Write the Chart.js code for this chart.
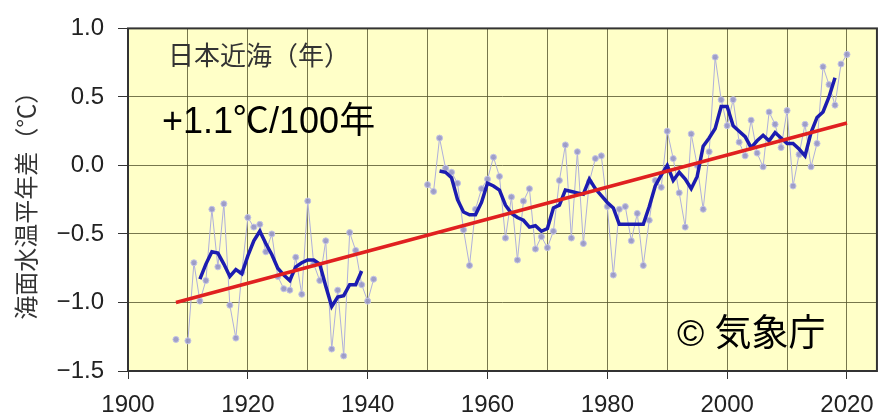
<!DOCTYPE html>
<html>
<head>
<meta charset="utf-8">
<script src="https://cdn.jsdelivr.net/npm/chart.js@4.4.1/dist/chart.umd.min.js"></script>
<style>
  body { margin: 0; background: #fff; }
  #wrap { width: 886px; height: 417px; }
</style>
</head>
<body>
<div id="wrap"><canvas id="sst"></canvas></div>
<script>
// 日本近海の年平均海面水温平年差
const years = [
  1908, 1909, 1910, 1911, 1912, 1913, 1914, 1915, 1916, 1917, 1918, 1919,
  1920, 1921, 1922, 1923, 1924, 1925, 1926, 1927, 1928, 1929,
  1930, 1931, 1932, 1933, 1934, 1935, 1936, 1937, 1938, 1939,
  1940, 1941, 1942, 1943, 1944, 1945, 1946, 1947, 1948, 1949,
  1950, 1951, 1952, 1953, 1954, 1955, 1956, 1957, 1958, 1959,
  1960, 1961, 1962, 1963, 1964, 1965, 1966, 1967, 1968, 1969,
  1970, 1971, 1972, 1973, 1974, 1975, 1976, 1977, 1978, 1979,
  1980, 1981, 1982, 1983, 1984, 1985, 1986, 1987, 1988, 1989,
  1990, 1991, 1992, 1993, 1994, 1995, 1996, 1997, 1998, 1999,
  2000, 2001, 2002, 2003, 2004, 2005, 2006, 2007, 2008, 2009,
  2010, 2011, 2012, 2013, 2014, 2015, 2016, 2017, 2018, 2019, 2020
];

// yearly anomaly
const yearly = [
  -1.27, null, -1.28, -0.71, -0.99, -0.84, -0.32, -0.74, -0.28, -1.02, -1.26, -0.78,
  -0.38, -0.45, -0.43, -0.63, -0.50, -0.81, -0.90, -0.91, -0.67, -0.94,
  -0.26, -0.72, -0.84, -0.55, -1.34, -0.91, -1.39, -0.49, -0.62, -0.87,
  -0.99, -0.83, null, null, null, null, null, null, null, null,
  -0.14, -0.19, 0.20, -0.02, -0.05, -0.13, -0.47, -0.73, -0.32, -0.17,
  -0.10, 0.06, -0.08, -0.53, -0.23, -0.69, -0.26, -0.17, -0.61, -0.52,
  -0.60, -0.48, -0.11, 0.15, -0.53, 0.10, -0.57, -0.12, 0.05, 0.07,
  -0.30, -0.80, -0.32, -0.30, -0.55, -0.35, -0.73, -0.40, -0.11, -0.16,
  0.25, 0.05, -0.20, -0.45, 0.23, 0.00, -0.32, 0.10, 0.79, 0.48,
  0.29, 0.48, 0.17, 0.07, 0.33, 0.09, -0.01, 0.39, 0.30, 0.13,
  0.40, -0.15, 0.08, 0.30, -0.01, 0.16, 0.72, 0.59, 0.44, 0.74, 0.81
];

// 5-year running mean
const runMean = [
  null, null, null, null, -0.83, -0.72, -0.63, -0.64, -0.72, -0.81, -0.76, -0.79,
  -0.66, -0.55, -0.48, -0.57, -0.65, -0.75, -0.80, -0.84, -0.74, -0.71,
  -0.69, -0.69, -0.72, -0.88, -1.03, -0.96, -0.95, -0.87, -0.87, -0.77,
  null, null, null, null, null, null, null, null, null, null,
  null, null, -0.04, -0.05, -0.09, -0.25, -0.34, -0.36, -0.36, -0.27,
  -0.13, -0.15, -0.18, -0.29, -0.35, -0.38, -0.40, -0.45, -0.44, -0.48,
  -0.46, -0.31, -0.29, -0.18, -0.19, -0.20, -0.21, -0.10, -0.17, -0.22,
  -0.27, -0.31, -0.43, -0.43, -0.43, -0.43, -0.43, -0.30, -0.15, -0.07,
  0.00, -0.11, -0.05, -0.10, -0.17, -0.08, 0.14, 0.20, 0.27, 0.43,
  0.43, 0.29, 0.25, 0.21, 0.13, 0.18, 0.22, 0.18, 0.24, 0.20,
  0.16, 0.16, 0.12, 0.07, 0.24, 0.35, 0.39, 0.50, 0.64, null, null
];

// long-term trend (+1.1℃/100年)
const trendYears = [1908, 2020];
const trendValues = [-1.00, 0.31];

const yTicks = [-1.5, -1.0, -0.5, 0.0, 0.5, 1.0];

const latin = '"Liberation Sans", "Noto Sans CJK JP", sans-serif';

function pts(xs, ys) {
  return xs.map((x, i) => ({ x: x, y: ys[i] }));
}

const panel = {
  id: 'panel',
  beforeDraw(chart) {
    const { ctx, chartArea: a } = chart;
    ctx.save();
    ctx.fillStyle = '#ffffc8';
    ctx.fillRect(a.left, a.top, a.right - a.left, a.bottom - a.top);
    ctx.restore();
  },
  afterDraw(chart) {
    const { ctx, chartArea: a } = chart;
    ctx.save();
    ctx.strokeStyle = '#333';
    ctx.lineWidth = 2;
    ctx.strokeRect(a.left, a.top, a.right - a.left, a.bottom - a.top);
    ctx.textBaseline = 'middle';
    ctx.fillStyle = '#333';
    ctx.font = '26px "Noto Sans CJK JP", sans-serif';
    ctx.fillText('日本近海（年）', a.left + 40, a.top + 27);
    ctx.fillStyle = '#000';
    ctx.font = '36px ' + latin;
    ctx.fillText('+1.1℃/100年', a.left + 34, a.top + 95);
    ctx.font = '37px ' + latin;
    ctx.fillText('© 気象庁', a.left + 549, a.top + 307);
    ctx.restore();
  }
};

new Chart(document.getElementById('sst'), {
  type: 'line',
  data: {
    datasets: [
      {
        label: 'trend',
        data: pts(trendYears, trendValues),
        borderColor: '#e02020',
        borderWidth: 3.5,
        pointRadius: 0,
        order: 1
      },
      {
        label: '5年移動平均',
        data: pts(years, runMean),
        borderColor: '#1c1cb0',
        borderWidth: 3.5,
        pointRadius: 0,
        spanGaps: false,
        order: 2
      },
      {
        label: '年平均',
        data: pts(years, yearly),
        borderColor: 'rgba(175,175,220,1)',
        borderWidth: 1,
        pointRadius: 3,
        pointBackgroundColor: 'rgba(150,150,200,0.9)',
        pointBorderColor: 'rgba(195,195,230,1)',
        pointBorderWidth: 1,
        spanGaps: false,
        order: 3
      }
    ]
  },
  options: {
    responsive: true,
    maintainAspectRatio: false,
    animation: false,
    layout: { padding: { top: 25, right: 8, left: 0, bottom: 0 } },
    plugins: { legend: { display: false }, tooltip: { enabled: false } },
    scales: {
      x: {
        type: 'linear',
        min: 1900,
        max: 2025,
        afterFit(s) { s.height = 46; },
        border: { display: false },
        grid: {
          color: 'rgba(85,85,45,0.8)',
          lineWidth: 1,
          tickLength: 8,
          tickColor: (c) => (c.tick && c.tick.value % 20 === 0) ? '#333' : 'rgba(0,0,0,0)'
        },
        ticks: {
          stepSize: 10,
          includeBounds: false,
          autoSkip: false,
          maxRotation: 0,
          padding: 12,
          color: '#222',
          font: { family: latin, size: 24 },
          callback: (v) => v % 20 === 0 ? String(v) : ''
        }
      },
      y: {
        min: -1.5,
        max: 1.0,
        afterFit(s) { s.width = 128; },
        afterBuildTicks(s) { s.ticks = yTicks.map(v => ({ value: v })); },
        border: { display: false },
        grid: {
          color: 'rgba(85,85,45,0.8)',
          lineWidth: 1,
          tickLength: 10,
          tickColor: '#333'
        },
        ticks: {
          padding: 14,
          color: '#222',
          font: { family: latin, size: 24 },
          callback: (v) => v.toFixed(1).replace('-', '\u2212')
        },
        title: {
          display: true,
          text: '海面水温平年差（℃）',
          color: '#333',
          padding: { top: 11, bottom: 0 },
          font: { family: '"Noto Sans CJK JP", sans-serif', size: 24 }
        }
      }
    }
  },
  plugins: [panel]
});
</script>
</body>
</html>
